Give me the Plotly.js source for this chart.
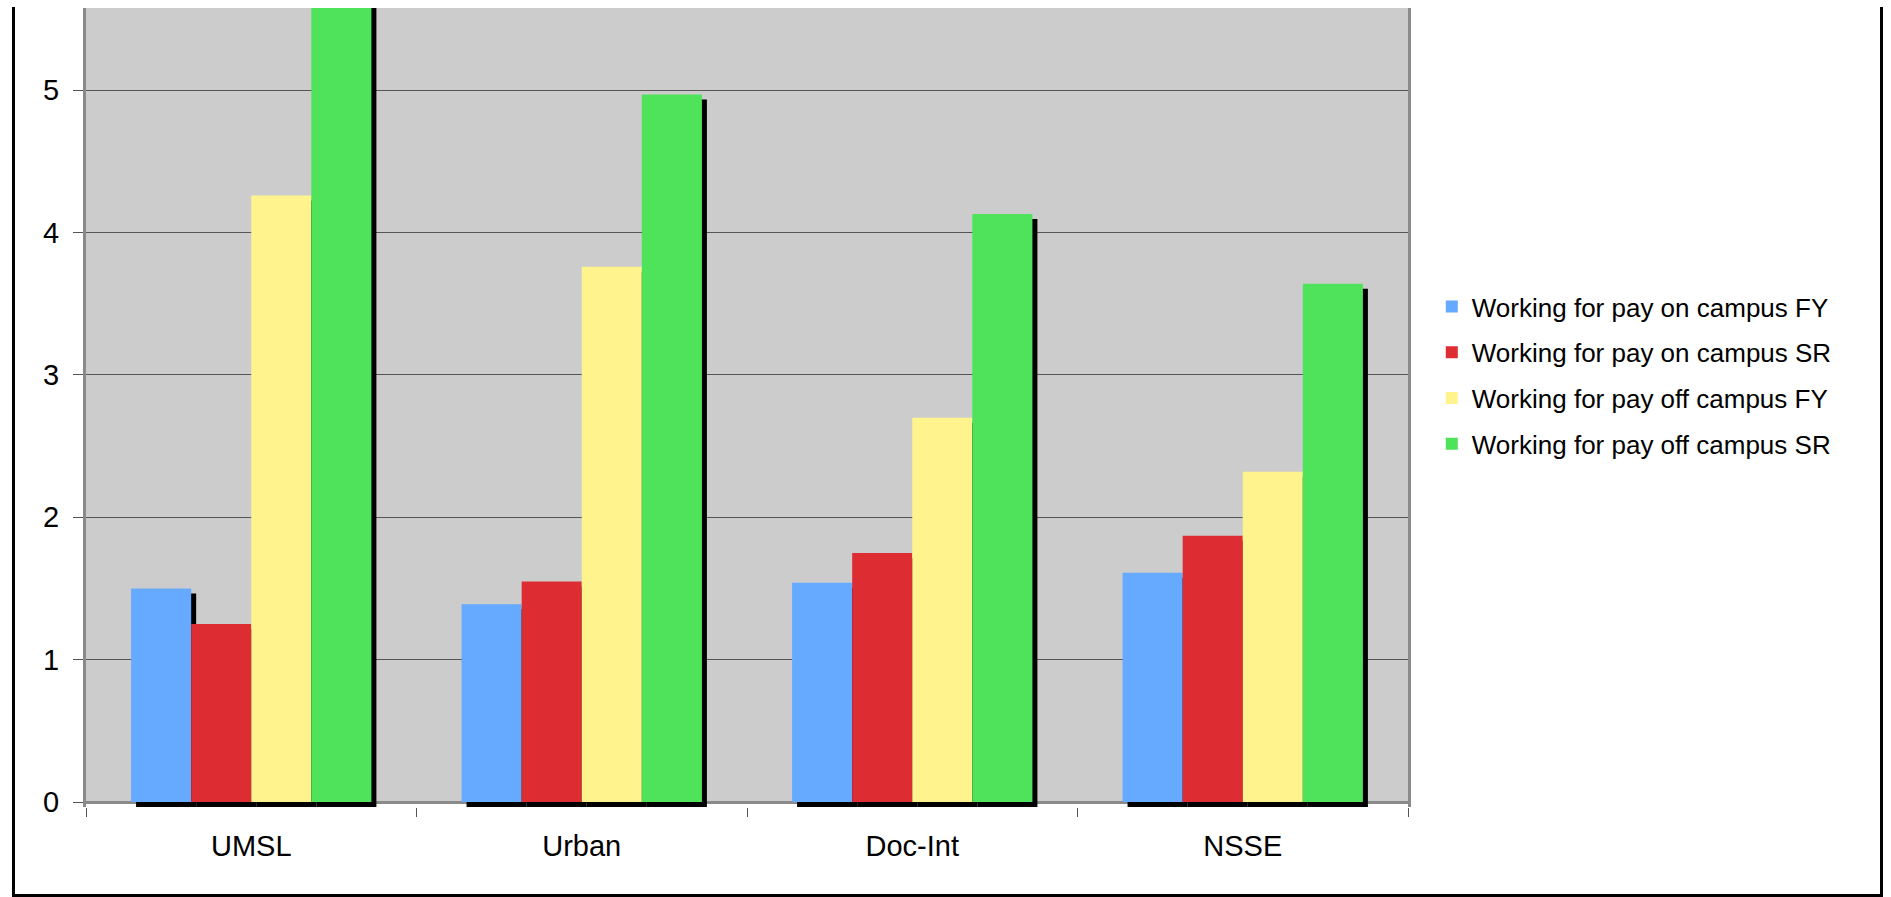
<!DOCTYPE html>
<html>
<head>
<meta charset="utf-8">
<script src="https://cdn.plot.ly/plotly-3.0.1.min.js"></script>
<style>
  html, body { margin: 0; padding: 0; background: #ffffff; }
  #wrap { position: relative; width: 1891px; height: 897px; overflow: hidden; }
  #chart { position: absolute; left: 0; top: 0; width: 1891px; height: 897px; }
  #frame { position: absolute; left: 12px; top: 7px; width: 1871px; height: 890px;
           box-sizing: border-box; border-left: 3px solid #000; border-right: 3px solid #000;
           border-bottom: 3px solid #000; pointer-events: none; }
</style>
</head>
<body>
<div id="wrap">
  <div id="chart"></div>
  <div id="frame"></div>
</div>
<script>
// ---- data ----
const categories = ["UMSL", "Urban", "Doc-Int", "NSSE"];
const seriesNames = [
  "Working for pay on campus FY",
  "Working for pay on campus SR",
  "Working for pay off campus FY",
  "Working for pay off campus SR"
];
const onCampusFY  = [1.50, 1.39, 1.54, 1.61];
const onCampusSR  = [1.25, 1.55, 1.75, 1.87];
const offCampusFY = [4.26, 3.76, 2.70, 2.32];
const offCampusSR = [5.90, 4.97, 4.13, 3.64];
const yTickVals = [0, 1, 2, 3, 4, 5];

// ---- style ----
const colors = ["#66AAFF", "#DD2D33", "#FFF38D", "#4EE35A"];
const allSeries = [onCampusFY, onCampusSR, offCampusFY, offCampusSR];
const barW = 0.1818;          // width of one bar in category units
const shadowDx = 0.0151;      // shadow shift right (category units)
const shadowDy = 0.035;       // shadow shift down (value units)
const yTop = 5.578;
const yBottom = -shadowDy;
const font = "Arial, 'Liberation Sans', sans-serif";

const traces = [];
allSeries.forEach((vals, i) => {
  const off = (i - 2) * barW;
  // shadow
  traces.push({
    type: "bar", x: categories, y: vals, base: vals.map(() => -shadowDy),
    offset: off + shadowDx, width: barW,
    marker: { color: "#000000", line: { width: 0 } },
    showlegend: false, hoverinfo: "skip"
  });
  // bar
  traces.push({
    type: "bar", name: seriesNames[i], x: categories, y: vals,
    offset: off, width: barW, legendgroup: "g" + i,
    marker: { color: colors[i], line: { width: 0 } }
  });
});

const layout = {
  width: 1891, height: 897,
  margin: { l: 86, r: 483, t: 8, b: 90, pad: 0 },
  paper_bgcolor: "#ffffff",
  plot_bgcolor: "rgba(0,0,0,0)",
  barmode: "overlay",
  showlegend: true,
  font: { family: font, size: 27, color: "#000000" },
  xaxis: {
    type: "category", range: [-0.5, 3.5],
    tickson: "boundaries", ticks: "outside", ticklen: 9, tickwidth: 1, tickcolor: "#555555",
    showline: false, showgrid: false, zeroline: false,
    tickfont: { family: font, size: 29, color: "#000000" },
    ticklabelstandoff: 19
  },
  yaxis: {
    range: [yBottom, yTop], tickvals: yTickVals, ticktext: yTickVals.map(String),
    ticks: "outside", ticklen: 10, tickwidth: 1, tickcolor: "#555555",
    showgrid: true, gridcolor: "#555555", gridwidth: 1,
    zeroline: true, zerolinecolor: "#8a8a8a", zerolinewidth: 3,
    showline: true, linecolor: "#8a8a8a", linewidth: 3, mirror: true,
    tickfont: { family: font, size: 29, color: "#000000" },
    ticklabelstandoff: 8
  },
  legend: {
    x: 1.018, xanchor: "left", y: 0.54, yanchor: "middle",
    bgcolor: "rgba(0,0,0,0)", borderwidth: 0,
    traceorder: "grouped", tracegroupgap: 9,
    font: { family: font, size: 26, color: "#000000" }
  },
  shapes: [{
    type: "rect", layer: "below", xref: "paper", yref: "y",
    x0: 0, x1: 1, y0: 0, y1: yTop,
    fillcolor: "#CCCCCC", line: { width: 0 }
  }]
};

Plotly.newPlot("chart", traces, layout, { displayModeBar: false, staticPlot: true });
</script>
</body>
</html>
